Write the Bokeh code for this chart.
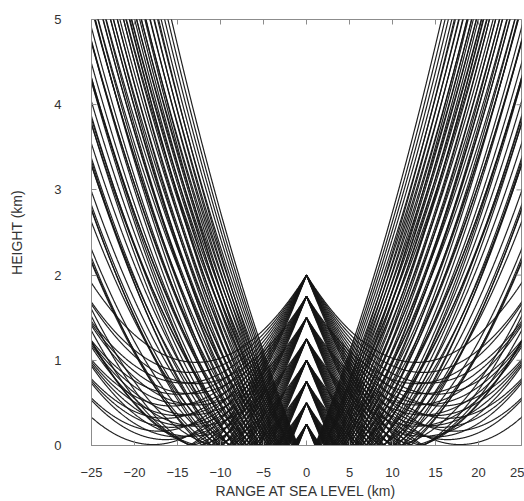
import numpy as np
from bokeh.plotting import figure
from bokeh.models import FixedTicker, Range1d
from bokeh.embed import file_html
from bokeh.resources import INLINE

# Point sources along the vertical channel at range 0 (km above sea level)
source_heights = [0.25, 0.50, 0.75, 1.00, 1.25, 1.50, 1.75, 2.00]
# Downward launch slopes of the rays (km drop per km of range), same on both sides
launch_slopes = [0.160, 0.169, 0.178, 0.187, 0.196, 0.205, 0.214, 0.223, 0.232, 0.241, 0.250, 0.260]
# Radius of curvature of the upward-refracting rays (km)
ray_radius = 80.0

x_ticks = [-25, -20, -15, -10, -5, 0, 5, 10, 15, 20, 25]
y_ticks = [0, 1, 2, 3, 4, 5]
x_limits = (-25, 25)
y_limits = (0, 5)


def ray_path(h0, slope, top=5.4, reach=26.0):
    """Height along a refracted ray launched downward, reflected at the ground."""
    s = np.linspace(0.0, reach, 700)
    disc = slope ** 2 - 2.0 * h0 / ray_radius
    sg = None
    if disc >= 0:
        sg = (slope - np.sqrt(disc)) * ray_radius
        s = np.sort(np.append(s, sg))
    h = h0 - slope * s + s ** 2 / (2.0 * ray_radius)
    if sg is not None:
        after = s > sg
        m = 2.0 * sg - s[after]
        h[after] = h0 - slope * m + m ** 2 / (2.0 * ray_radius)
        h[np.isclose(s, sg)] = 0.0
    above = np.nonzero(h > top)[0]
    if len(above):
        cut = above[0] + 1
        s, h = s[:cut], h[:cut]
    return s, h


xs, ys = [], []
for h0 in source_heights:
    for t in launch_slopes:
        s, h = ray_path(h0, t)
        xs.append(s)
        ys.append(h)
        xs.append(-s)
        ys.append(h)

p = figure(
    width=524, height=501,
    x_range=Range1d(*x_limits), y_range=Range1d(*y_limits),
    output_backend="svg", toolbar_location=None,
    min_border_left=91, min_border_right=3, min_border_top=19, min_border_bottom=54,
)
p.background_fill_color = "white"
p.border_fill_color = "white"
p.grid.visible = False
p.outline_line_color = "#8c8c8c"
p.outline_line_width = 1

p.multi_line(xs, ys, line_color="#151515", line_width=1.2, line_alpha=0.95)

frame_col = "#8c8c8c"
label_font = "Liberation Sans"
text_col = "#333333"

for ax in (p.xaxis[0], p.yaxis[0]):
    ax.major_tick_in = 5
    ax.major_tick_out = 0
    ax.minor_tick_line_color = None
    ax.axis_line_color = frame_col
    ax.major_tick_line_color = frame_col
    ax.major_label_text_font = label_font
    ax.major_label_text_font_size = "13px"
    ax.major_label_text_color = text_col
    ax.axis_label_text_font = label_font
    ax.axis_label_text_font_size = "14px"
    ax.axis_label_text_font_style = "normal"
    ax.axis_label_text_color = text_col

p.xaxis[0].ticker = FixedTicker(ticks=x_ticks)
p.yaxis[0].ticker = FixedTicker(ticks=y_ticks)
p.xaxis[0].axis_label = "RANGE AT SEA LEVEL (km)"
p.yaxis[0].axis_label = "HEIGHT (km)"
p.xaxis[0].major_label_standoff = 22
p.xaxis[0].axis_label_standoff = 3
p.yaxis[0].major_label_standoff = 30
p.yaxis[0].axis_label_standoff = 26

# Inward ticks along the top and right edges of the frame
p.ray(x=x_ticks, y=[y_limits[1]] * len(x_ticks), length=5, length_units="screen",
      angle=-np.pi / 2, line_color=frame_col, line_width=1)
p.ray(x=[x_limits[1]] * len(y_ticks), y=y_ticks, length=5, length_units="screen",
      angle=np.pi, line_color=frame_col, line_width=1)

open("out.html", "w").write(file_html(p, INLINE))
